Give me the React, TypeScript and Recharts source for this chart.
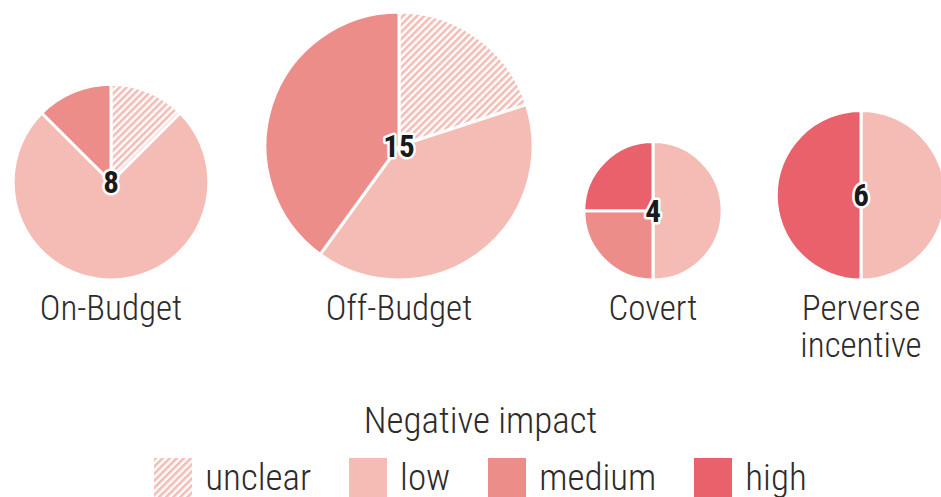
import React from 'react';
import { PieChart, Pie, Cell, Label } from 'recharts';

// categories (one pie each) and impact levels (slices, clockwise from 12 o'clock)
const groups = ['On-Budget', 'Off-Budget', 'Covert', 'Perverse incentive'];
const levels = ['unclear', 'low', 'medium', 'high'];

// counts per group, one array per impact level
const unclearCounts = [1, 3, 0, 0];
const lowCounts = [6, 6, 2, 3];
const mediumCounts = [1, 6, 1, 0];
const highCounts = [0, 0, 1, 3];

const levelColors: Record<string, string> = {
  unclear: 'url(#hatch)',
  low: '#f5bcb6',
  medium: '#ec8d89',
  high: '#e8616b',
};

const FONT = "'Roboto Condensed', 'DejaVu Sans Condensed', 'Liberation Sans Narrow', 'Noto Sans', sans-serif";
const TEXT = '#2e2b2a';

// layout: pie centres along x, all pies sit on the same bottom line, area ~ total
const centersX = [111, 399, 653, 861];
const bottomY = 280;
const radiusPerSqrt = 34.6;

const seriesByLevel = [unclearCounts, lowCounts, mediumCounts, highCounts];

const pies = groups.map((name, g) => {
  const data = levels
    .map((level, i) => ({ name: level, value: seriesByLevel[i][g] }))
    .filter((d) => d.value > 0);
  const total = data.reduce((s, d) => s + d.value, 0);
  const r = radiusPerSqrt * Math.sqrt(total);
  return { name, data, total, r, cx: centersX[g], cy: bottomY - r };
});

// number in the middle + group name under the pie
const PieLabel = ({ pie }: any) => {
  const lines = pie.name.split(' ');
  return (
    <g>
      <text
        x={pie.cx}
        y={pie.cy}
        dy={11}
        textAnchor="middle"
        fontFamily={FONT}
        fontWeight={700}
        fontSize={31}
        fill="#1a1a1a"
        stroke="#fff"
        strokeWidth={5}
        strokeLinejoin="round"
        paintOrder="stroke"
      >
        {pie.total}
      </text>
      {lines.map((ln: string, i: number) => (
        <text
          key={ln}
          x={pie.cx}
          y={bottomY + 40 + i * 37}
          textAnchor="middle"
          fontFamily={FONT}
          fontWeight={300}
          fontSize={35}
          fill={TEXT}
        >
          {ln}
        </text>
      ))}
    </g>
  );
};

export default function App() {
  return (
    <div style={{ position: 'absolute', left: 0, top: 0, width: 941, height: 497, background: '#fff', overflow: 'hidden' }}>
      <svg width={0} height={0} style={{ position: 'absolute' }}>
        <defs>
          <pattern id="hatch" patternUnits="userSpaceOnUse" width={5} height={5} patternTransform="rotate(45)">
            <rect width={5} height={5} fill="#fff" />
            <rect width={2.6} height={5} fill="#f5bcb6" />
          </pattern>
        </defs>
      </svg>
      <PieChart width={941} height={497} margin={{ top: 0, right: 0, bottom: 0, left: 0 }}>
        {pies.map((p) => (
          <Pie
            key={p.name}
            data={p.data}
            dataKey="value"
            nameKey="name"
            cx={p.cx}
            cy={p.cy}
            outerRadius={p.r}
            startAngle={90}
            endAngle={-270}
            stroke="#fff"
            strokeWidth={3}
            isAnimationActive={false}
          >
            {p.data.map((d) => (
              <Cell key={d.name} fill={levelColors[d.name]} />
            ))}
            <Label position="center" content={() => <PieLabel pie={p} />} />
          </Pie>
        ))}
      </PieChart>
      <div
        style={{
          position: 'absolute',
          left: 0,
          top: 398,
          width: 941,
          textAlign: 'center',
          fontFamily: FONT,
          fontWeight: 300,
          color: TEXT,
        }}
      >
        <div style={{ fontSize: 37, lineHeight: '46px', paddingLeft: 20 }}>Negative impact</div>
        <div style={{ display: 'flex', justifyContent: 'center', alignItems: 'center', marginTop: 14, paddingLeft: 20 }}>
          {levels.map((level) => (
            <div key={level} style={{ display: 'flex', alignItems: 'center', margin: '0 19px' }}>
              <svg width={38} height={40} style={{ display: 'block' }}>
                <rect width={38} height={40} fill={levelColors[level]} />
              </svg>
              <span style={{ fontSize: 37, marginLeft: 13, lineHeight: '40px' }}>{level}</span>
            </div>
          ))}
        </div>
      </div>
    </div>
  );
}
